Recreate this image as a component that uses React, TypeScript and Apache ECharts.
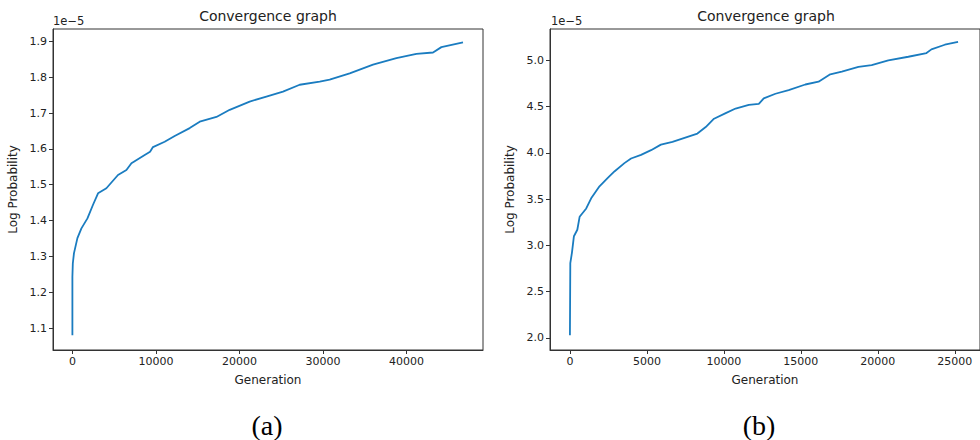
import React, { useEffect, useRef } from "react";
import * as echarts from "echarts";

// Panel (a): generation vs log probability (units of 1e-5)
const genA = [0, 0, 50, 190, 600, 1080, 1800, 2470, 3070, 4070, 5460, 6470, 7070, 8660, 9300, 9650, 11050, 12250, 14050, 15250, 17250, 18840, 21230, 23230, 25220, 27220, 29620, 30810, 33210, 36000, 38800, 41200, 43190, 44190, 46780];
const probA = [1.080, 1.243, 1.280, 1.309, 1.351, 1.378, 1.406, 1.444, 1.476, 1.490, 1.527, 1.541, 1.560, 1.583, 1.592, 1.605, 1.620, 1.636, 1.658, 1.676, 1.689, 1.709, 1.732, 1.746, 1.760, 1.779, 1.788, 1.793, 1.811, 1.835, 1.853, 1.865, 1.869, 1.884, 1.897];

// Panel (b)
const genB = [0, 25, 130, 260, 480, 630, 1060, 1380, 1920, 2460, 2890, 3540, 3970, 4620, 5270, 5910, 6660, 8280, 8820, 9360, 10120, 10760, 11620, 12270, 12590, 13350, 14210, 15290, 16150, 16910, 17660, 18740, 19600, 20680, 21980, 23160, 23480, 24350, 25210];
const probB = [2.03, 2.81, 2.92, 3.10, 3.17, 3.31, 3.40, 3.51, 3.64, 3.73, 3.80, 3.89, 3.94, 3.98, 4.03, 4.09, 4.12, 4.21, 4.28, 4.37, 4.43, 4.48, 4.52, 4.53, 4.59, 4.64, 4.68, 4.74, 4.77, 4.85, 4.88, 4.93, 4.95, 5.00, 5.04, 5.08, 5.12, 5.17, 5.20];

const xTicksA = [0, 10000, 20000, 30000, 40000];
const yTicksA = [1.1, 1.2, 1.3, 1.4, 1.5, 1.6, 1.7, 1.8, 1.9];
const xTicksB = [0, 5000, 10000, 15000, 20000, 25000];
const yTicksB = [2.0, 2.5, 3.0, 3.5, 4.0, 4.5, 5.0];

const TITLE = "Convergence graph";
const XNAME = "Generation";
const YNAME = "Log Probability";
const OFFSET = "1e\u22125";
const CAPTIONS = ["(a)", "(b)"];

const FONT = "DejaVu Sans";
const TXT = "#222";
const AX = "#333";
const LINE = "#1a7cc0";

function xAxis(gridIndex: number, min: number, max: number, ticks: number[]) {
  return {
    type: "value",
    gridIndex,
    min,
    max,
    name: XNAME,
    nameLocation: "middle",
    nameGap: 24,
    nameTextStyle: { fontFamily: FONT, fontSize: 12, color: TXT },
    axisLine: { show: true, onZero: false, lineStyle: { color: AX, width: 1 } },
    axisTick: { show: true, customValues: ticks, length: 4, lineStyle: { color: AX } },
    axisLabel: { customValues: ticks, margin: 6, fontFamily: FONT, fontSize: 11, color: TXT, formatter: (v: number) => String(v) },
    splitLine: { show: false },
  };
}

function yAxis(gridIndex: number, min: number, max: number, ticks: number[]) {
  return {
    type: "value",
    gridIndex,
    min,
    max,
    name: YNAME,
    nameLocation: "middle",
    nameGap: 34,
    nameTextStyle: { fontFamily: FONT, fontSize: 12, color: TXT },
    axisLine: { show: true, onZero: false, lineStyle: { color: AX, width: 1 } },
    axisTick: { show: true, customValues: ticks, length: 4, lineStyle: { color: AX } },
    axisLabel: { customValues: ticks, margin: 6, fontFamily: FONT, fontSize: 11, color: TXT, formatter: (v: number) => v.toFixed(1) },
    splitLine: { show: false },
  };
}

export default function App() {
  const ref = useRef<HTMLDivElement>(null);
  useEffect(() => {
    if (!ref.current) return;
    const chart = echarts.init(ref.current, null, { renderer: "svg" });
    const dataA = genA.map((g, i) => [g, probA[i]]);
    const dataB = genB.map((g, i) => [g, probB[i]]);
    chart.setOption({
      animation: false,
      backgroundColor: "#fff",
      grid: [
        { left: 53, top: 29, width: 430, height: 321, show: true, borderColor: AX, borderWidth: 1, backgroundColor: "transparent" },
        { left: 550, top: 29, width: 432, height: 321, show: true, borderColor: AX, borderWidth: 1, backgroundColor: "transparent" },
      ],
      xAxis: [xAxis(0, -2323, 49174, xTicksA), xAxis(1, -1294, 26636, xTicksB)],
      yAxis: [yAxis(0, 1.0386, 1.9346, yTicksA), yAxis(1, 1.87, 5.34, yTicksB)],
      series: [
        { type: "line", xAxisIndex: 0, yAxisIndex: 0, data: dataA, showSymbol: false, lineStyle: { color: LINE, width: 1.8 }, itemStyle: { color: LINE } },
        { type: "line", xAxisIndex: 1, yAxisIndex: 1, data: dataB, showSymbol: false, lineStyle: { color: LINE, width: 1.8 }, itemStyle: { color: LINE } },
      ],
      graphic: [
        { type: "text", x: 268, y: 16, style: { text: TITLE, fontFamily: FONT, fontSize: 14, fill: TXT, textAlign: "center", textVerticalAlign: "middle" } },
        { type: "text", x: 766, y: 16, style: { text: TITLE, fontFamily: FONT, fontSize: 14, fill: TXT, textAlign: "center", textVerticalAlign: "middle" } },
        { type: "text", x: 53, y: 21, style: { text: OFFSET, fontFamily: FONT, fontSize: 11.5, fill: TXT, textAlign: "left", textVerticalAlign: "middle" } },
        { type: "text", x: 551, y: 21, style: { text: OFFSET, fontFamily: FONT, fontSize: 11.5, fill: TXT, textAlign: "left", textVerticalAlign: "middle" } },
        { type: "text", x: 267, y: 425, style: { text: CAPTIONS[0], fontFamily: "Liberation Serif", fontSize: 28, fill: "#000", textAlign: "center", textVerticalAlign: "middle" } },
        { type: "text", x: 759, y: 425, style: { text: CAPTIONS[1], fontFamily: "Liberation Serif", fontSize: 28, fill: "#000", textAlign: "center", textVerticalAlign: "middle" } },
      ],
    });
    return () => chart.dispose();
  }, []);
  return <div ref={ref} style={{ position: "absolute", left: 0, top: 0, width: 980, height: 440 }} />;
}
